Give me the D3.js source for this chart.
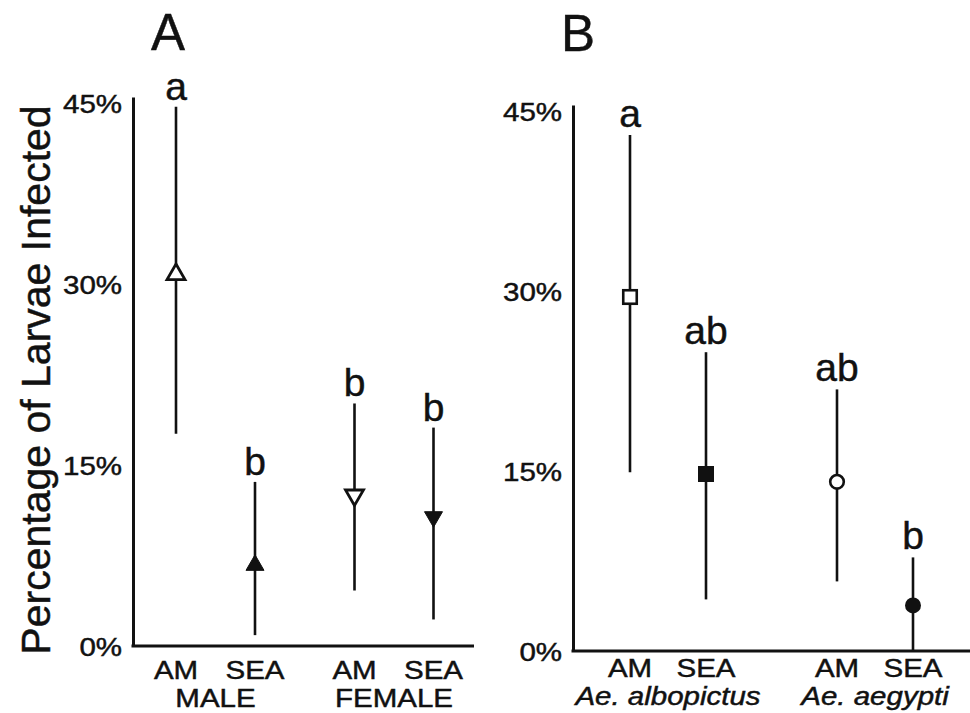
<!DOCTYPE html>
<html>
<head>
<meta charset="utf-8">
<script src="https://cdn.jsdelivr.net/npm/d3@7"></script>
<style>
  html, body { margin: 0; padding: 0; background: #fff; }
  svg { display: block; }
  text { font-family: Arial, "Liberation Sans", Helvetica, sans-serif; fill: #111; stroke: #111; stroke-width: 0.45px; }
</style>
</head>
<body>
<svg id="chart" width="970" height="713"></svg>
<script>
// ---------------- DATA ----------------
const subCategories = ["AM", "SEA"];
const yTicks = [0, 15, 30, 45];
const yMax = 45.5;

// Panel A
const panelAGroups = ["MALE", "FEMALE"];
const panelAMean  = [30.8, 6.7, 12.5, 10.7];
const panelALower = [17.6, 0.9, 4.6, 2.2];
const panelAUpper = [44.7, 13.6, 20.1, 18.1];
const panelALetters = ["a", "b", "b", "b"];

// Panel B
const panelBGroups = ["Ae. albopictus", "Ae. aegypti"];
const panelBMean  = [29.5, 14.75, 14.1, 3.8];
const panelBLower = [14.9, 4.3, 5.8, 0];
const panelBUpper = [43.0, 24.9, 21.8, 7.8];
const panelBLetters = ["a", "ab", "ab", "b"];

// ---------------- DRAW ----------------
const svg = d3.select("#chart");
const ink = "#111";

function buildRows(groups, mean, lower, upper, letters) {
  const rows = [];
  groups.forEach((g, gi) => {
    subCategories.forEach((s, si) => {
      const i = gi * subCategories.length + si;
      rows.push({ group: g, sub: s, mean: mean[i], lower: lower[i], upper: upper[i], letter: letters[i], i });
    });
  });
  return rows;
}

function triangle(down) {
  const p = d3.symbol().type(d3.symbolTriangle).size(140)();
  return { path: p, rotate: down ? 180 : 0 };
}

function drawPanel(cfg) {
  const g = svg.append("g");
  const y = d3.scaleLinear().domain([0, yMax]).range([cfg.y0, cfg.yTop]);
  const xg = d3.scalePoint().domain(cfg.groups).range(cfg.groupRange);
  const xs = d3.scalePoint().domain(subCategories).range([-cfg.inner, cfg.inner]);
  const xPos = d => xg(d.group) + xs(d.sub);
  const rows = buildRows(cfg.groups, cfg.mean, cfg.lower, cfg.upper, cfg.letters);

  // y axis
  const axis = d3.axisLeft(y).tickValues(yTicks).tickSize(0).tickSizeOuter(0)
    .tickPadding(11).tickFormat(d => d + "%");
  const ag = g.append("g").attr("transform", `translate(${cfg.xAxis},0)`).call(axis);
  ag.select(".domain").attr("stroke", ink).attr("stroke-width", 3);
  ag.selectAll(".tick text")
    .attr("font-size", 25)
    .attr("fill", ink)
    .attr("font-family", 'Arial, "Liberation Sans", sans-serif')
    .attr("x", -11 / 1.18)
    .attr("dy", "0.36em")
    .attr("transform", "scale(1.18,1)");

  // x axis line
  g.append("line")
    .attr("x1", cfg.xAxis - 1.5).attr("x2", cfg.xEnd)
    .attr("y1", y(0)).attr("y2", y(0))
    .attr("stroke", ink).attr("stroke-width", 3);

  // error bars
  g.selectAll(".err").data(rows).join("line")
    .attr("x1", xPos).attr("x2", xPos)
    .attr("y1", d => y(d.lower)).attr("y2", d => y(d.upper))
    .attr("stroke", ink).attr("stroke-width", 2.6);

  // markers
  rows.forEach((d, k) => {
    const cx = xPos(d), cy = y(d.mean);
    const m = cfg.markers[k];
    if (m.shape === "triangle") {
      const t = triangle(m.down);
      g.append("path").attr("d", t.path)
        .attr("transform", `translate(${cx},${cy}) rotate(${t.rotate})`)
        .attr("fill", m.filled ? ink : "#fff").attr("stroke", ink)
        .attr("stroke-width", m.filled ? 1 : 2.8).attr("stroke-linejoin", "miter");
    } else if (m.shape === "square") {
      const s = m.filled ? 16 : 13.5;
      g.append("rect").attr("x", cx - s / 2).attr("y", cy - s / 2)
        .attr("width", s).attr("height", s)
        .attr("fill", m.filled ? ink : "#fff").attr("stroke", ink)
        .attr("stroke-width", m.filled ? 0 : 2.6);
    } else {
      g.append("circle").attr("cx", cx).attr("cy", cy)
        .attr("r", m.filled ? 8 : 6.8)
        .attr("fill", m.filled ? ink : "#fff").attr("stroke", ink)
        .attr("stroke-width", m.filled ? 0 : 2.6);
    }
  });

  // significance letters
  g.selectAll(".letter").data(rows).join("text")
    .attr("x", xPos).attr("y", d => y(d.upper) - cfg.letterGap)
    .attr("text-anchor", "middle").attr("font-size", 39)
    .text(d => d.letter);

  // sub category labels
  rows.forEach(d => {
    g.append("text")
      .attr("transform", `translate(${xPos(d)},${cfg.subBase}) scale(1.18,1)`)
      .attr("text-anchor", "middle").attr("font-size", 25)
      .text(d.sub);
  });
  // group labels
  cfg.groups.forEach(gr => {
    g.append("text")
      .attr("transform", `translate(${xg(gr)},${cfg.groupBase}) scale(1.18,1)`)
      .attr("text-anchor", "middle").attr("font-size", 25)
      .attr("font-style", cfg.italic ? "italic" : "normal")
      .text(gr);
  });

  // panel title
  g.append("text").attr("x", cfg.titleX).attr("y", cfg.titleY)
    .attr("text-anchor", "middle").attr("font-size", 51)
    .text(cfg.title);
}

drawPanel({
  title: "A", titleX: 168, titleY: 50,
  groups: panelAGroups, mean: panelAMean, lower: panelALower, upper: panelAUpper, letters: panelALetters,
  y0: 646, yTop: 97, xAxis: 133, xEnd: 474,
  groupRange: [215.5, 394], inner: 39.5,
  letterGap: 7, subBase: 679, groupBase: 707, italic: false,
  markers: [
    { shape: "triangle", down: false, filled: false },
    { shape: "triangle", down: false, filled: true },
    { shape: "triangle", down: true, filled: false },
    { shape: "triangle", down: true, filled: true }
  ]
});

drawPanel({
  title: "B", titleX: 578, titleY: 51,
  groups: panelBGroups, mean: panelBMean, lower: panelBLower, upper: panelBUpper, letters: panelBLetters,
  y0: 651, yTop: 105, xAxis: 573, xEnd: 972,
  groupRange: [668, 875], inner: 38,
  letterGap: 8, subBase: 677, groupBase: 705, italic: true,
  markers: [
    { shape: "square", filled: false },
    { shape: "square", filled: true },
    { shape: "circle", filled: false },
    { shape: "circle", filled: true }
  ]
});

// y axis title
svg.append("text")
  .attr("transform", "translate(50,380) rotate(-90)")
  .attr("text-anchor", "middle").attr("font-size", 41)
  .text("Percentage of Larvae Infected");
</script>
</body>
</html>
